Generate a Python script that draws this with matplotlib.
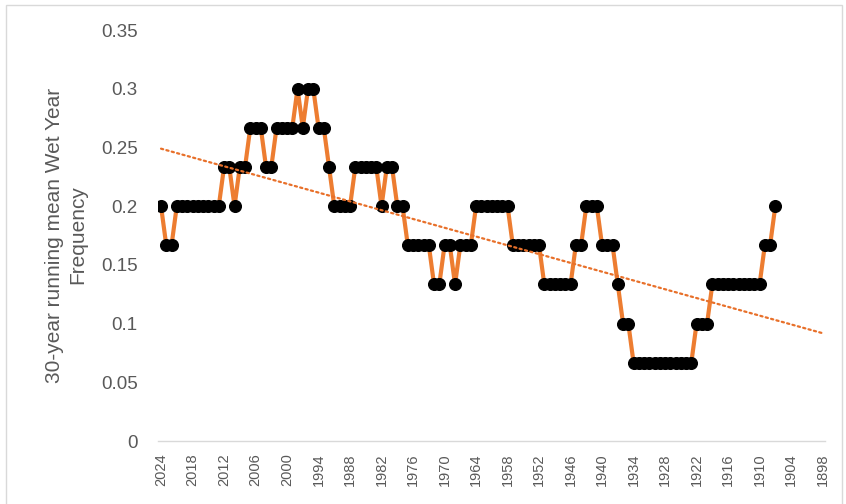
import numpy as np
import matplotlib
matplotlib.use("Agg")
import matplotlib.pyplot as plt
from matplotlib.patches import Rectangle

# Category axis: years from 2024 back to 1898
categories = list(range(2024, 1897, -1))

# 30-year running mean wet-year frequency, 2024 ... 1907
wet_freq = [
    0.2, 0.1667, 0.1667, 0.2, 0.2, 0.2, 0.2, 0.2, 0.2, 0.2,
    0.2, 0.2, 0.2333, 0.2333, 0.2, 0.2333, 0.2333, 0.2667, 0.2667, 0.2667,
    0.2333, 0.2333, 0.2667, 0.2667, 0.2667, 0.2667, 0.3, 0.2667, 0.3, 0.3,
    0.2667, 0.2667, 0.2333, 0.2, 0.2, 0.2, 0.2, 0.2333, 0.2333, 0.2333,
    0.2333, 0.2333, 0.2, 0.2333, 0.2333, 0.2, 0.2, 0.1667, 0.1667, 0.1667,
    0.1667, 0.1667, 0.1333, 0.1333, 0.1667, 0.1667, 0.1333, 0.1667, 0.1667, 0.1667,
    0.2, 0.2, 0.2, 0.2, 0.2, 0.2, 0.2, 0.1667, 0.1667, 0.1667,
    0.1667, 0.1667, 0.1667, 0.1333, 0.1333, 0.1333, 0.1333, 0.1333, 0.1333, 0.1667,
    0.1667, 0.2, 0.2, 0.2, 0.1667, 0.1667, 0.1667, 0.1333, 0.1, 0.1,
    0.0667, 0.0667, 0.0667, 0.0667, 0.0667, 0.0667, 0.0667, 0.0667, 0.0667, 0.0667,
    0.0667, 0.0667, 0.1, 0.1, 0.1, 0.1333, 0.1333, 0.1333, 0.1333, 0.1333,
    0.1333, 0.1333, 0.1333, 0.1333, 0.1333, 0.1667, 0.1667, 0.2,
]

tick_years = [2024, 2018, 2012, 2006, 2000, 1994, 1988, 1982, 1976, 1970, 1964,
              1958, 1952, 1946, 1940, 1934, 1928, 1922, 1916, 1910, 1904, 1898]
y_ticks = [0, 0.05, 0.1, 0.15, 0.2, 0.25, 0.3, 0.35]
y_tick_labels = ["0", "0.05", "0.1", "0.15", "0.2", "0.25", "0.3", "0.35"]
y_title = "30-year running mean Wet Year\nFrequency"

plt.rcParams['font.family'] = ['Liberation Sans', 'DejaVu Sans']

W, H = 846, 504
fig = plt.figure(figsize=(W / 100, H / 100), dpi=100)
fig.patch.set_facecolor('white')

left, right, top, bottom = 158.4, 825.2, 30, 441
ax = fig.add_axes([left / W, 1 - bottom / H, (right - left) / W, (bottom - top) / H])

idx = np.arange(len(wet_freq))
ax.plot(idx, wet_freq, color='#ED7D31', lw=3.0, marker='o', ms=8.4,
        mfc='black', mec='black', zorder=3, solid_joinstyle='round')

# linear trendline (fit over the plotted data, drawn over the full category range)
coef = np.polyfit(idx, wet_freq, 1)
full_idx = np.arange(len(categories))
ax.plot(full_idx, np.polyval(coef, full_idx), color='#E8702A', lw=1.6,
        linestyle=(0, (1, 1.5)), dash_capstyle='round', zorder=4)

ax.set_xlim(-0.5, len(categories) - 0.5)
ax.set_ylim(0, 0.35)

tick_pos = [categories.index(y) for y in tick_years]
ax.set_xticks(tick_pos)
ax.set_xticklabels([str(y) for y in tick_years], rotation=90, fontsize=10.5,
                   color='#595959', va='top', ha='center')
ax.set_yticks(y_ticks)
ax.set_yticklabels(y_tick_labels, fontsize=13.5, color='#595959')
ax.tick_params(axis='x', length=0, pad=9)
ax.tick_params(axis='y', length=0, pad=15)

for s in ['top', 'right', 'left']:
    ax.spines[s].set_visible(False)
ax.spines['bottom'].set_color('#D9D9D9')
ax.spines['bottom'].set_linewidth(1.0)

fig.text(66 / W, 1 - 235 / H, y_title, rotation=90, ha='center', va='center',
         multialignment='center', fontsize=15, color='#595959', linespacing=1.3)

# chart-area border
fig.patches.append(Rectangle((6 / W, -0.02), (842 - 6) / W, 1.02 - 5 / H,
                             transform=fig.transFigure, fill=False,
                             edgecolor='#D9D9D9', lw=1.0))

fig.savefig('out.png', dpi=100, facecolor='white')
